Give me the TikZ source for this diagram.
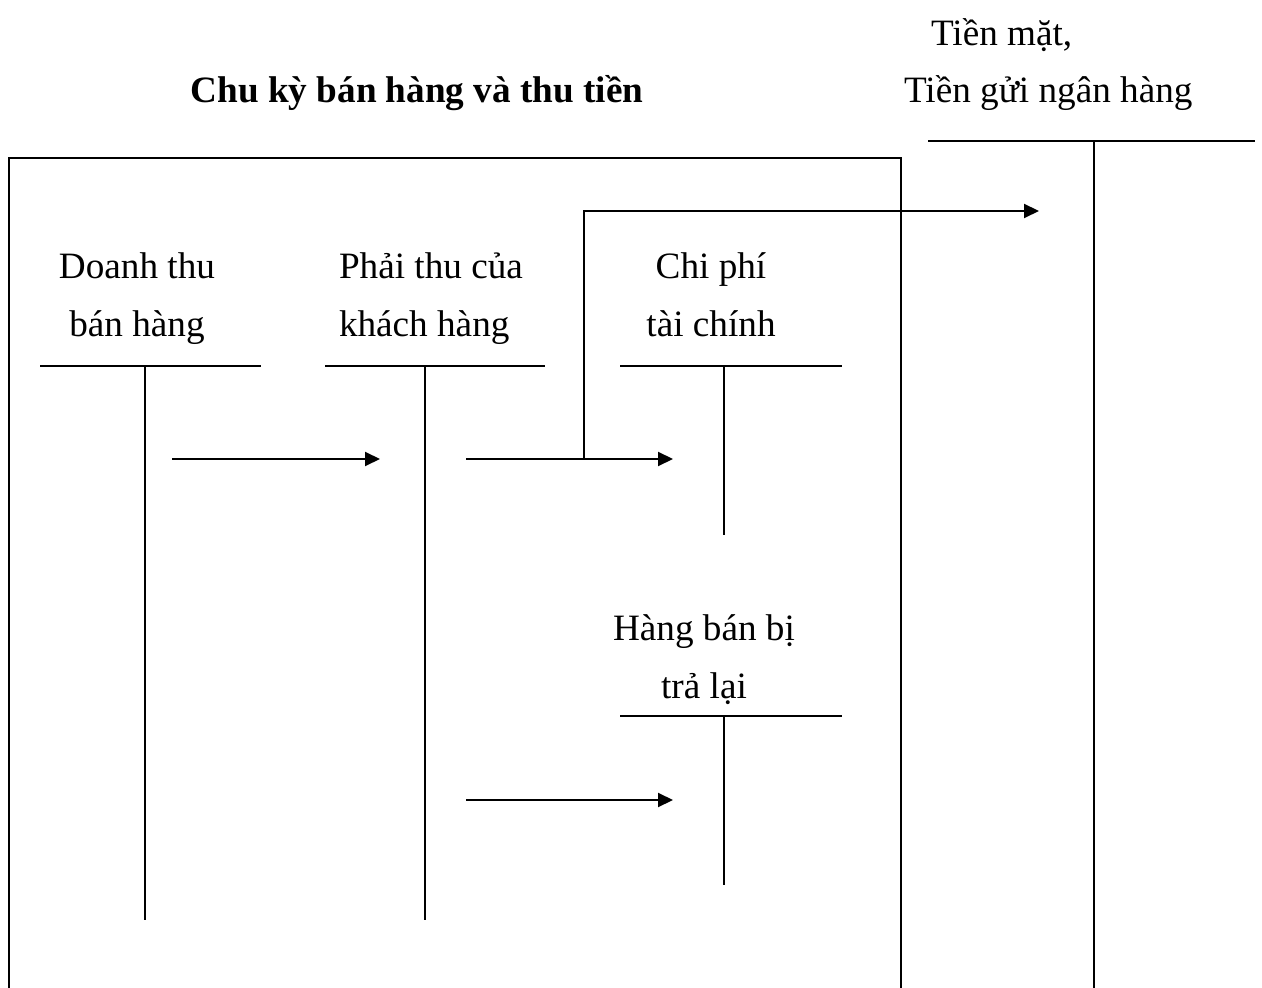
\documentclass[tikz,border=0pt]{standalone}
\usepackage{fontspec}
\setmainfont{Liberation Serif}
\usetikzlibrary{arrows.meta,
                positioning}

\begin{document}
\begin{tikzpicture}[x=0.5pt, y=-0.5pt, line width=1pt]

\useasboundingbox (0,0) rectangle (1262,988);

\begin{scope}[lbl/.style = {inner sep=0pt, font=\fontsize{18.6}{29}\selectfont}]
    \node[lbl, font=\fontsize{18.6}{29}\selectfont\bfseries, anchor=base] (title) at (417,103) {Chu kỳ bán hàng và thu tiền};
    \node[lbl, anchor=base west] (tien1) at (930,46) {Tiền mặt,};
    \node[lbl, anchor=base west] (tien2) at (903,103) {Tiền gửi ngân hàng};

    % base of a two-line label is its second line
    \node[lbl, anchor=base, align=center] (dt) at (137,337) {Doanh thu\\bán hàng};
    \node[lbl, anchor=base west, align=left] (pt) at (338,337) {Phải thu của\\khách hàng};
    \node[lbl, anchor=base, align=center] (cp) at (711,337) {Chi phí\\tài chính};
    \node[lbl, anchor=base, align=center] (hb) at (704,698) {Hàng bán bị\\trả lại};
\end{scope}

% frame of the cycle, open at the bottom
\draw (9,988) -- (9,158) -- (901,158) -- (901,988);

% T accounts
\draw (928,141) -- (1255,141);
\draw (1094,141) -- (1094,988);

\draw (40,366) -- (261,366);
\draw (145,366) -- (145,920);

\draw (325,366) -- (545,366);
\draw (425,366) -- (425,920);

\draw (620,366) -- (842,366);
\draw (724,366) -- (724,535);

\draw (620,716) -- (842,716);
\draw (724,716) -- (724,885);

\begin{scope}[flow/.style = {-{Triangle[length=7.5pt, width=7pt]}}]
    \coordinate (dtout) at (172,459);
    \coordinate (ptin) at (380,459);
    \coordinate (ptout) at (466,459);
    \coordinate (cpin) at (673,459);
    \coordinate (br) at (584,459);
    \coordinate (tienin) at (1039,211);
    \coordinate (ptout2) at (466,800);
    \coordinate (hbin) at (673,800);

    \draw[flow] (dtout) -- (ptin);
    \draw[flow] (ptout) -- (cpin);
    \draw[flow] (br) |- (tienin);
    \draw[flow] (ptout2) -- (hbin);
\end{scope}

\end{tikzpicture}
\end{document}
